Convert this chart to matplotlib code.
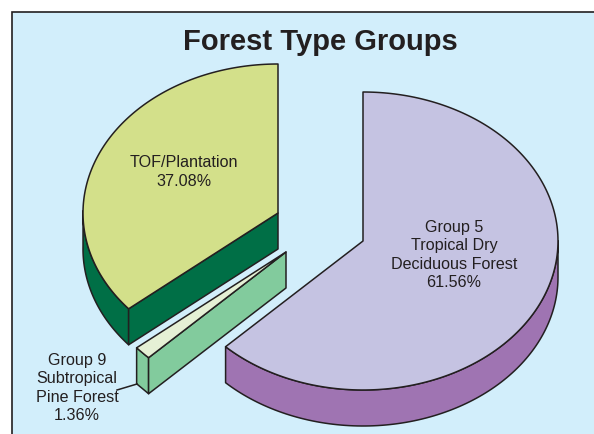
import numpy as np
import matplotlib
matplotlib.use('Agg')
import matplotlib.pyplot as plt
from matplotlib.patches import Polygon, Rectangle

plt.rcParams['font.family'] = ['Liberation Sans', 'DejaVu Sans']

# 数据
title = 'Forest Type Groups'
labels = ['TOF/Plantation\n37.08%',
          'Group 9\nSubtropical\nPine Forest\n1.36%',
          'Group 5\nTropical Dry\nDeciduous Forest\n61.56%']
values = [37.08, 1.36, 61.56]

top_colors = ['#d3e08a', '#e5f0d5', '#c5c3e2']
side_colors = ['#006f46', '#82cb9d', '#9f74b2']
edge = '#231f20'
bg = '#d2eefb'

# 每块的中心（炸开后的位置），单位是像素
centers = [(278, 213), (286, 252), (363, 241)]
rx, ry, depth = 195, 149, 36


def warp(a):
    # 透视造成的角度偏移
    return a - 4.8 * np.sin(np.radians(a - 90))


def rim(c, a1, a2, n=200):
    t = np.radians(warp(np.linspace(a1, a2, n)))
    return np.column_stack([c[0] + rx * np.cos(t), c[1] - ry * np.sin(t)])


fig = plt.figure(figsize=(5.94, 4.34), dpi=100, facecolor='white')
ax = fig.add_axes([0, 0, 1, 1])
ax.set_xlim(0, 594)
ax.set_ylim(434, 0)
ax.axis('off')

# 右边和下边没有边框，背景一直到图片边缘
ax.add_patch(Rectangle((11.5, 11.5), 640, 480, fc=bg, ec=edge, lw=1.2))

down = np.array([0, depth])
cum = 90 + np.cumsum([0] + values) * 3.6
for i in range(len(values)):
    c = centers[i]
    a1, a2 = cum[i], cum[i + 1]
    pts = rim(c, a1, a2)
    center = np.array(c, dtype=float)
    style = dict(ec=edge, lw=1.1, joinstyle='round')

    # 外侧的弧面：只画朝下的部分
    t = np.radians(warp(np.linspace(a1, a2, 200)))
    front = pts[np.sin(t) < 0.02]
    if i == 2:
        # 紫色块的弧面
        ax.add_patch(Polygon(np.vstack([front, (front + down)[::-1]]), fc=side_colors[i], **style))
    if i == 0:
        # 绿色块：弧面和切面同色
        ax.add_patch(Polygon(np.vstack([front, (front + down)[::-1]]), fc=side_colors[i], **style))
        end = pts[-1]
        ax.add_patch(Polygon([center, end, end + down, center + down], fc=side_colors[i], **style))
    if i == 1:
        a, b = pts[0], pts[-1]
        ax.add_patch(Polygon([a, b, b + down, a + down], fc=side_colors[i], **style))
        ax.add_patch(Polygon([b, center, center + down, b + down], fc=side_colors[i], **style))
    ax.add_patch(Polygon(np.vstack([center, pts]), fc=top_colors[i], **style))

ax.text(320, 42, title, fontsize=21, fontweight='bold', color=edge, ha='center', va='center')
ax.text(184, 172, labels[0], fontsize=11.6, color=edge, ha='center', va='center', linespacing=1.3)
ax.text(77, 388, labels[1], fontsize=11.6, color=edge, ha='center', va='center', linespacing=1.3)
ax.text(454, 255, labels[2], fontsize=11.6, color=edge, ha='center', va='center', linespacing=1.3)

# 引线
ax.plot([117, 137], [390, 384], color=edge, lw=1.1)

fig.savefig('out.png', dpi=100)
